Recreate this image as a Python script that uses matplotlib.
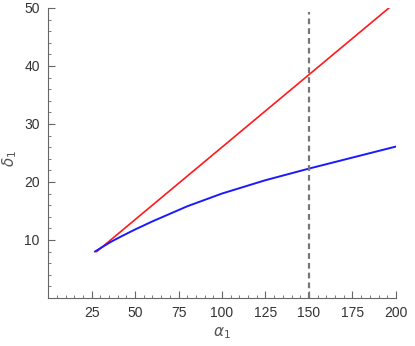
import numpy as np
import matplotlib.pyplot as plt
from matplotlib.ticker import MultipleLocator

# data
alpha_red = [28, 196]
delta_red = [8.0, 50.0]

alpha_blue = [27, 31, 36, 42, 50, 60, 70, 80, 100, 125, 150, 175, 200]
delta_blue = [8.0, 8.75, 9.65, 10.6, 11.8, 13.2, 14.5, 15.8, 18.0, 20.3, 22.3, 24.2, 26.1]

alpha_cut = 150

xticks = [25, 50, 75, 100, 125, 150, 175, 200]
yticks = [10, 20, 30, 40, 50]

plt.rcParams['font.family'] = ['Liberation Sans', 'DejaVu Sans']
plt.rcParams['mathtext.fontset'] = 'dejavusans'

fig = plt.figure(figsize=(4.15, 3.46), dpi=100)
ax = fig.add_axes([0.116, 0.139, 0.838, 0.838])

ax.plot(alpha_red, delta_red, color='#ff1a1a', lw=1.2)
ax.plot(alpha_blue, delta_blue, color='#1a1aff', lw=1.4)
ax.axvline(alpha_cut, ymin=0, ymax=0.985, color='#777777', lw=1.6, ls=(0, (2.6, 1.8)))

ax.set_xlim(0, 200)
ax.set_ylim(0, 50)
ax.set_xticks(xticks)
ax.set_yticks(yticks)
ax.xaxis.set_minor_locator(MultipleLocator(5))
ax.yaxis.set_minor_locator(MultipleLocator(2))
ax.tick_params(which='both', direction='in', colors='#666666', labelcolor='#333333',
               labelsize=10)
ax.tick_params(which='major', length=5, width=0.8, pad=6)
ax.tick_params(which='minor', length=2.5, width=0.6)
ax.spines['top'].set_visible(False)
ax.spines['right'].set_visible(False)
for s in ['left', 'bottom']:
    ax.spines[s].set_color('#666666')
    ax.spines[s].set_linewidth(0.8)

ax.set_xlabel(r'$\alpha_1$', color='#555555', fontsize=11, labelpad=4)
ax.set_ylabel(r'$\delta_1$', color='#555555', fontsize=11)
ax.yaxis.set_label_coords(-0.085, 0.48)

fig.savefig('out.png', dpi=100)
